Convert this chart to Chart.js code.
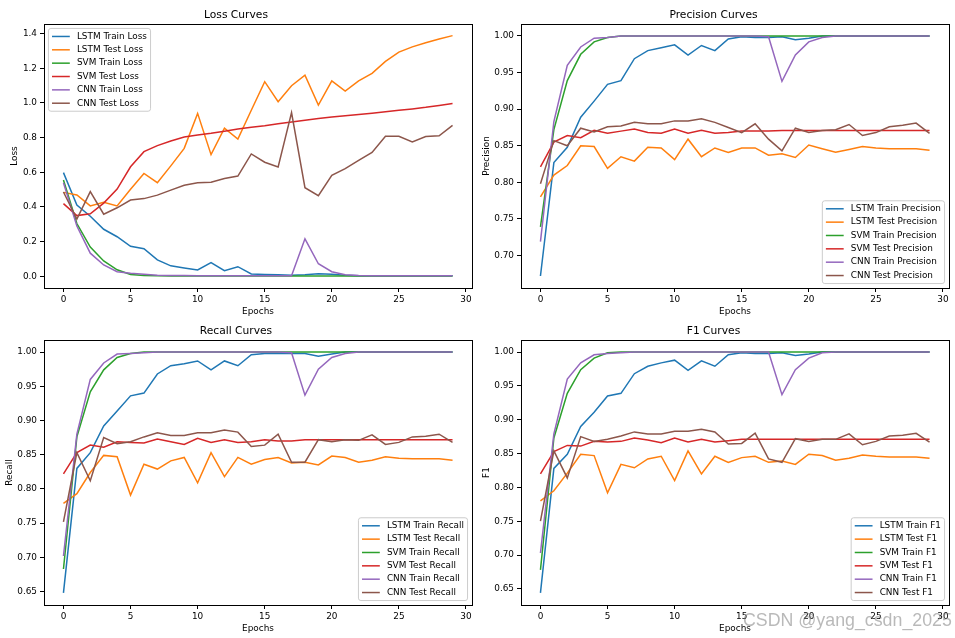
<!DOCTYPE html>
<html>
<head>
<meta charset="utf-8">
<script src="https://cdn.jsdelivr.net/npm/chart.js@4.4.1/dist/chart.umd.min.js"></script>
<style>
html, body { margin: 0; padding: 0; background: #fff; }
body { width: 955px; height: 638px; position: relative; overflow: hidden; }
canvas { position: absolute; }
#mark { position: absolute; left: 743px; top: 611.5px; font: 17.8px "Liberation Sans", Arial, sans-serif; line-height: 1; color: rgba(128,128,128,0.55); white-space: nowrap; }
</style>
</head>
<body>
<canvas id="lossChart" width="478" height="318" style="left:0;top:0"></canvas>
<canvas id="precisionChart" width="477" height="318" style="left:478px;top:0"></canvas>
<canvas id="recallChart" width="478" height="320" style="left:0;top:318px"></canvas>
<canvas id="f1Chart" width="477" height="320" style="left:478px;top:318px"></canvas>
<div id="mark">CSDN @yang_csdn_2025</div>
<script>
const epochs = [0,1,2,3,4,5,6,7,8,9,10,11,12,13,14,15,16,17,18,19,20,21,22,23,24,25,26,27,28,29];
const xTicks = [0,5,10,15,20,25,30];

// Loss
const lstmTrainLoss = [0.598,0.411,0.346,0.271,0.228,0.173,0.159,0.094,0.060,0.048,0.036,0.078,0.032,0.055,0.013,0.010,0.008,0.006,0.008,0.014,0.011,0.005,0.003,0.003,0.003,0.002,0.002,0.002,0.002,0.002];
const lstmTestLoss = [0.484,0.469,0.406,0.427,0.406,0.502,0.593,0.540,0.637,0.738,0.940,0.702,0.854,0.792,0.958,1.123,1.007,1.100,1.161,0.988,1.128,1.069,1.128,1.171,1.240,1.294,1.324,1.348,1.369,1.389];
const svmTrainLoss = [0.556,0.304,0.168,0.088,0.037,0.010,0.004,0.002,0.001,0.001,0.001,0.001,0.001,0.001,0.001,0.001,0.001,0.001,0.001,0.001,0.001,0.001,0.001,0.001,0.001,0.001,0.001,0.001,0.001,0.001];
const svmTestLoss = [0.419,0.350,0.360,0.422,0.503,0.632,0.719,0.754,0.781,0.804,0.815,0.825,0.837,0.850,0.860,0.869,0.880,0.890,0.900,0.910,0.919,0.926,0.933,0.941,0.950,0.958,0.966,0.975,0.986,0.997];
const cnnTrainLoss = [0.540,0.290,0.133,0.065,0.026,0.017,0.012,0.006,0.004,0.004,0.003,0.003,0.003,0.003,0.003,0.003,0.003,0.003,0.216,0.072,0.026,0.009,0.004,0.003,0.003,0.003,0.003,0.003,0.003,0.003];
const cnnTestLoss = [0.486,0.330,0.488,0.358,0.395,0.440,0.448,0.468,0.497,0.525,0.539,0.543,0.564,0.578,0.706,0.658,0.631,0.944,0.511,0.465,0.583,0.621,0.669,0.715,0.808,0.808,0.775,0.806,0.811,0.871];

// Precision
const lstmTrainPrecision = [0.672,0.827,0.848,0.889,0.911,0.934,0.939,0.969,0.980,0.984,0.988,0.974,0.987,0.980,0.996,0.999,0.998,0.998,0.999,0.995,0.997,1.000,1.000,1.000,1.000,1.000,1.000,1.000,1.000,1.000];
const lstmTestPrecision = [0.780,0.810,0.823,0.850,0.849,0.819,0.835,0.829,0.848,0.847,0.831,0.859,0.835,0.847,0.841,0.847,0.847,0.837,0.839,0.834,0.851,0.846,0.841,0.845,0.849,0.847,0.846,0.846,0.846,0.844];
const svmTrainPrecision = [0.739,0.872,0.939,0.975,0.992,0.998,1.000,1.000,1.000,1.000,1.000,1.000,1.000,1.000,1.000,1.000,1.000,1.000,1.000,1.000,1.000,1.000,1.000,1.000,1.000,1.000,1.000,1.000,1.000,1.000];
const svmTestPrecision = [0.821,0.855,0.864,0.861,0.871,0.867,0.870,0.873,0.868,0.867,0.873,0.867,0.871,0.867,0.868,0.870,0.870,0.870,0.871,0.871,0.871,0.871,0.871,0.871,0.871,0.871,0.871,0.871,0.871,0.871];
const cnnTrainPrecision = [0.719,0.883,0.960,0.985,0.997,0.998,1.000,1.000,1.000,1.000,1.000,1.000,1.000,1.000,1.000,1.000,1.000,0.999,0.938,0.974,0.992,0.998,1.000,1.000,1.000,1.000,1.000,1.000,1.000,1.000];
const cnnTestPrecision = [0.798,0.857,0.850,0.874,0.869,0.876,0.877,0.882,0.880,0.880,0.884,0.884,0.887,0.882,0.875,0.868,0.880,0.859,0.843,0.874,0.868,0.871,0.872,0.879,0.864,0.868,0.876,0.878,0.881,0.867];

// Recall
const lstmTrainRecall = [0.648,0.830,0.853,0.892,0.914,0.936,0.940,0.968,0.980,0.983,0.987,0.974,0.987,0.980,0.996,0.998,0.998,0.998,0.998,0.994,0.997,1.000,1.000,1.000,1.000,1.000,1.000,1.000,1.000,1.000];
const lstmTestRecall = [0.779,0.793,0.824,0.849,0.847,0.791,0.836,0.829,0.841,0.846,0.809,0.853,0.818,0.846,0.836,0.843,0.846,0.838,0.839,0.835,0.848,0.846,0.839,0.842,0.847,0.845,0.844,0.844,0.844,0.842];
const svmTrainRecall = [0.683,0.876,0.942,0.974,0.992,0.998,1.000,1.000,1.000,1.000,1.000,1.000,1.000,1.000,1.000,1.000,1.000,1.000,1.000,1.000,1.000,1.000,1.000,1.000,1.000,1.000,1.000,1.000,1.000,1.000];
const svmTestRecall = [0.822,0.853,0.864,0.861,0.869,0.868,0.867,0.873,0.869,0.865,0.874,0.868,0.872,0.868,0.869,0.872,0.870,0.870,0.872,0.872,0.872,0.872,0.872,0.872,0.872,0.872,0.872,0.872,0.872,0.872];
const cnnTrainRecall = [0.702,0.880,0.960,0.984,0.997,0.998,0.999,1.000,1.000,1.000,1.000,1.000,1.000,1.000,1.000,1.000,1.000,0.999,0.937,0.975,0.992,0.998,1.000,1.000,1.000,1.000,1.000,1.000,1.000,1.000];
const cnnTestRecall = [0.752,0.853,0.812,0.875,0.866,0.869,0.876,0.882,0.878,0.878,0.882,0.882,0.886,0.883,0.862,0.864,0.880,0.839,0.839,0.872,0.869,0.872,0.871,0.879,0.865,0.868,0.876,0.877,0.880,0.868];

// F1
const lstmTrainF1 = [0.644,0.828,0.849,0.890,0.911,0.935,0.939,0.968,0.979,0.984,0.988,0.973,0.987,0.979,0.996,0.999,0.998,0.998,0.999,0.995,0.997,1.000,1.000,1.000,1.000,1.000,1.000,1.000,1.000,1.000];
const lstmTestF1 = [0.780,0.795,0.821,0.849,0.847,0.792,0.834,0.829,0.842,0.846,0.810,0.854,0.820,0.846,0.837,0.844,0.846,0.837,0.839,0.834,0.849,0.847,0.840,0.843,0.848,0.846,0.845,0.845,0.845,0.843];
const svmTrainF1 = [0.678,0.873,0.939,0.974,0.991,0.999,1.000,1.000,1.000,1.000,1.000,1.000,1.000,1.000,1.000,1.000,1.000,1.000,1.000,1.000,1.000,1.000,1.000,1.000,1.000,1.000,1.000,1.000,1.000,1.000];
const svmTestF1 = [0.820,0.853,0.862,0.861,0.868,0.867,0.868,0.873,0.870,0.866,0.873,0.867,0.871,0.867,0.869,0.871,0.871,0.871,0.871,0.871,0.871,0.871,0.871,0.871,0.871,0.871,0.871,0.871,0.871,0.871];
const cnnTrainF1 = [0.703,0.879,0.960,0.984,0.996,0.998,0.999,1.000,1.000,1.000,1.000,1.000,1.000,1.000,1.000,1.000,1.000,1.000,0.937,0.974,0.991,0.999,1.000,1.000,1.000,1.000,1.000,1.000,1.000,1.000];
const cnnTestF1 = [0.750,0.854,0.814,0.875,0.868,0.871,0.876,0.882,0.879,0.879,0.883,0.883,0.886,0.882,0.864,0.865,0.880,0.842,0.837,0.872,0.868,0.871,0.871,0.879,0.863,0.868,0.876,0.877,0.880,0.867];

const lossTicks = [0.0,0.2,0.4,0.6,0.8,1.0,1.2,1.4];
const precisionTicks = [0.70,0.75,0.80,0.85,0.90,0.95,1.00];
const scoreTicks = [0.65,0.70,0.75,0.80,0.85,0.90,0.95,1.00];

const colors = ['#1f77b4', '#ff7f0e', '#2ca02c', '#d62728', '#9467bd', '#8c564b'];
const FONT = '"DejaVu Sans", sans-serif';
const FS = 8.9;

Chart.defaults.font.family = FONT;
Chart.defaults.font.size = FS;
Chart.defaults.color = '#000';

// matplotlib style frame around the axes
const frame = {
    id: 'frame',
    afterDatasetsDraw(chart) {
        const { ctx, chartArea: a } = chart;
        ctx.save();
        ctx.strokeStyle = '#000';
        ctx.lineWidth = 1;
        ctx.strokeRect(a.left + 0.5, a.top + 0.5, a.right - a.left, a.bottom - a.top);
        ctx.restore();
    }
};

// legend box inside the axes
const boxLegend = {
    id: 'boxLegend',
    afterDraw(chart, args, opts) {
        const { ctx, chartArea: a } = chart;
        const pad = 0.4 * FS, spacing = 0.5 * FS, handle = 2 * FS, textPad = 0.8 * FS, margin = 0.5 * FS, rowH = FS;
        const items = chart.data.datasets;
        ctx.save();
        ctx.font = FS + 'px ' + FONT;
        const tw = Math.max(...items.map(d => ctx.measureText(d.label).width));
        const w = pad * 2 + handle + textPad + tw;
        const h = pad * 2 + items.length * rowH + (items.length - 1) * spacing;
        const x = opts.loc === 'upper left' ? a.left + margin : a.right - margin - w;
        const y = opts.loc === 'upper left' ? a.top + margin : a.bottom - margin - h;
        ctx.beginPath();
        ctx.roundRect(x, y, w, h, 2.5);
        ctx.fillStyle = 'rgba(255,255,255,0.8)';
        ctx.fill();
        ctx.strokeStyle = '#cccccc';
        ctx.lineWidth = 1;
        ctx.stroke();
        items.forEach((d, i) => {
            const cy = y + pad + i * (rowH + spacing) + rowH / 2;
            ctx.strokeStyle = d.borderColor;
            ctx.lineWidth = d.borderWidth;
            ctx.beginPath();
            ctx.moveTo(x + pad, cy);
            ctx.lineTo(x + pad + handle, cy);
            ctx.stroke();
            ctx.fillStyle = '#000';
            ctx.textBaseline = 'middle';
            ctx.textAlign = 'left';
            ctx.fillText(d.label, x + pad + handle + textPad, cy);
        });
        ctx.restore();
    }
};

const X_AXIS_H = 29;

const makePanel = (id, p) => {
    const canvas = document.getElementById(id);
    const w = canvas.width, h = canvas.height;
    const datasets = p.series.map((values, i) => ({
        label: p.labels[i],
        data: values,
        borderColor: colors[i],
        backgroundColor: colors[i],
        borderWidth: 1.5,
        pointRadius: 0,
        tension: 0,
        fill: false,
        order: p.series.length - i,
    }));
    new Chart(canvas, {
        type: 'line',
        data: { labels: epochs, datasets },
        plugins: [frame, boxLegend],
        options: {
            responsive: false,
            animation: false,
            devicePixelRatio: 1,
            layout: {
                padding: { left: 0, top: 0, right: w - p.area.right, bottom: h - p.area.bottom - X_AXIS_H }
            },
            plugins: {
                legend: { display: false },
                tooltip: { enabled: false },
                title: {
                    display: true,
                    text: p.title,
                    color: '#000',
                    font: { size: 10.7, weight: 'normal' },
                    padding: { top: p.area.top - 12.84 - 2.8, bottom: 2.8 }
                },
                boxLegend: { loc: p.legendLoc }
            },
            scales: {
                x: {
                    type: 'linear',
                    min: -1.45,
                    max: 30.45,
                    afterBuildTicks: s => { s.ticks = xTicks.map(v => ({ value: v })); },
                    afterFit: s => { s.height = X_AXIS_H; },
                    grid: { drawOnChartArea: false, drawTicks: true, tickLength: 4, tickColor: '#000' },
                    border: { display: false },
                    ticks: { color: '#000', padding: 2, maxRotation: 0, autoSkip: false },
                    title: { display: true, text: 'Epochs', color: '#000', padding: { top: 0, bottom: 0 } }
                },
                y: {
                    min: p.yMin,
                    max: p.yMax,
                    afterBuildTicks: s => { s.ticks = p.yTicks.map(v => ({ value: v })); },
                    afterFit: s => { s.width = p.area.left; },
                    grid: { drawOnChartArea: false, drawTicks: true, tickLength: 4, tickColor: '#000' },
                    border: { display: false },
                    ticks: { color: '#000', padding: 3, autoSkip: false, callback: v => v.toFixed(p.decimals) },
                    title: { display: true, text: p.yLabel, color: '#000', padding: { top: p.yTitlePad, bottom: 0 } }
                }
            }
        }
    });
};

makePanel('lossChart', {
    title: 'Loss Curves',
    yLabel: 'Loss',
    labels: ['LSTM Train Loss', 'LSTM Test Loss', 'SVM Train Loss', 'SVM Test Loss', 'CNN Train Loss', 'CNN Test Loss'],
    series: [lstmTrainLoss, lstmTestLoss, svmTrainLoss, svmTestLoss, cnnTrainLoss, cnnTestLoss],
    yMin: -0.068, yMax: 1.456, yTicks: lossTicks, decimals: 1,
    area: { left: 44, top: 24, right: 472, bottom: 288 },
    yTitlePad: 9.6,
    legendLoc: 'upper left'
});

makePanel('precisionChart', {
    title: 'Precision Curves',
    yLabel: 'Precision',
    labels: ['LSTM Train Precision', 'LSTM Test Precision', 'SVM Train Precision', 'SVM Test Precision', 'CNN Train Precision', 'CNN Test Precision'],
    series: [lstmTrainPrecision, lstmTestPrecision, svmTrainPrecision, svmTestPrecision, cnnTrainPrecision, cnnTestPrecision],
    yMin: 0.6556, yMax: 1.0164, yTicks: precisionTicks, decimals: 2,
    area: { left: 43, top: 24, right: 471, bottom: 288 },
    yTitlePad: 2.9,
    legendLoc: 'lower right'
});

makePanel('recallChart', {
    title: 'Recall Curves',
    yLabel: 'Recall',
    labels: ['LSTM Train Recall', 'LSTM Test Recall', 'SVM Train Recall', 'SVM Test Recall', 'CNN Train Recall', 'CNN Test Recall'],
    series: [lstmTrainRecall, lstmTestRecall, svmTrainRecall, svmTestRecall, cnnTrainRecall, cnnTestRecall],
    yMin: 0.6304, yMax: 1.0176, yTicks: scoreTicks, decimals: 2,
    area: { left: 44, top: 22, right: 472, bottom: 287 },
    yTitlePad: 3.9,
    legendLoc: 'lower right'
});

makePanel('f1Chart', {
    title: 'F1 Curves',
    yLabel: 'F1',
    labels: ['LSTM Train F1', 'LSTM Test F1', 'SVM Train F1', 'SVM Test F1', 'CNN Train F1', 'CNN Test F1'],
    series: [lstmTrainF1, lstmTestF1, svmTrainF1, svmTestF1, cnnTrainF1, cnnTestF1],
    yMin: 0.6262, yMax: 1.0178, yTicks: scoreTicks, decimals: 2,
    area: { left: 43, top: 22, right: 471, bottom: 287 },
    yTitlePad: 3.6,
    legendLoc: 'lower right'
});
</script>
</body>
</html>
